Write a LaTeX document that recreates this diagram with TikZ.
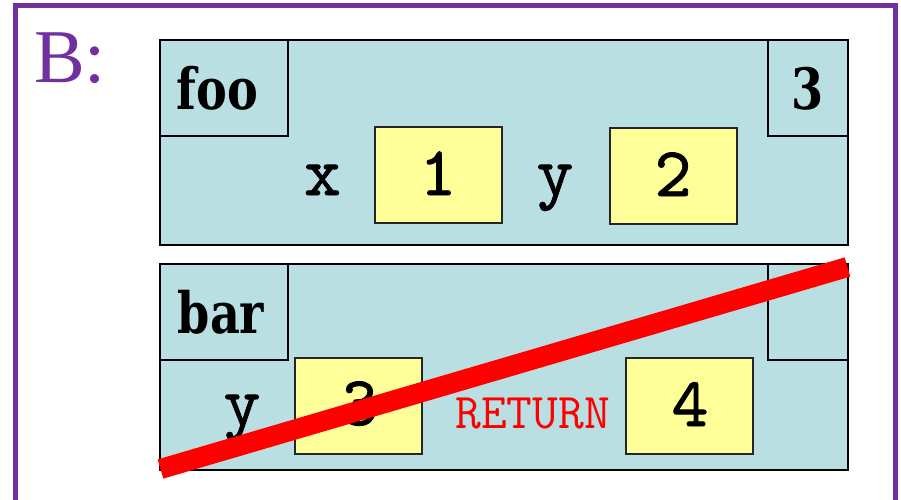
\documentclass[tikz,border=0pt]{standalone}
\usepackage{fontspec}
\usepackage{graphicx}
\newfontfamily\titlefont{Liberation Serif}
\newfontfamily\heavyfont{DejaVu Serif Condensed}
\newfontfamily\typefont{lmmono10-regular}[Extension=.otf,FakeBold=1.2]
\definecolor{framepurple}{RGB}{112,48,160}
\definecolor{frameblue}{RGB}{185,223,227}
\definecolor{valyellow}{RGB}{255,255,153}
\definecolor{crossred}{RGB}{255,0,0}
\begin{document}
\begin{tikzpicture}[x=1pt,y=-1pt,
  framebox/.style={draw=black,line width=2pt,fill=frameblue,inner sep=0pt,rectangle},
  tagbox/.style={framebox,minimum width=128pt,minimum height=96pt},
  cntbox/.style={framebox,minimum width=80pt,minimum height=96pt},
  valbox/.style={draw=black!85,line width=2pt,fill=valyellow,inner sep=0pt,rectangle,minimum width=127pt,minimum height=96pt},
  monotext/.style={font=\typefont\fontsize{70}{80}\selectfont,inner sep=0pt,anchor=base},
  boldtext/.style={font=\heavyfont\bfseries\fontsize{57}{67}\selectfont,inner sep=0pt,anchor=base},
  rettext/.style={font=\ttfamily\fontsize{50}{60}\selectfont,text=crossred,inner sep=0pt,anchor=base}
]
\clip (0,0) rectangle (901,499);
\fill[white] (0,0) rectangle (901,499);
% outer purple frame
\draw[framepurple,line width=5pt] (15.5,530) -- (15.5,5.5) -- (895.5,5.5) -- (895.5,530);
\node[font=\titlefont\fontsize{76}{90}\selectfont,text=framepurple,anchor=base west,inner sep=0pt] (title) at (34,82) {B:};
% foo frame
\node[framebox,minimum width=688pt,minimum height=205pt] (fooframe) at (504,142.5) {};
\node[tagbox] (footag) at (224,88) {};
\node[cntbox] (foocnt) at (808,88) {};
\node[valbox] (foox) at (438,175) {};
\node[valbox] (fooy) at (673,175.5) {};
\node[boldtext] (foolabel) at (217.5,109) {\scalebox{0.9}[1]{foo}};
\node[boldtext] (foocount) at (807.5,109) {\scalebox{0.9}[1]{3}};
\node[monotext] (xname) at (322.5,195) {x};
\node[monotext] (xval) at (438,195) {1};
\node[monotext] (yname) at (555,195) {y};
\node[monotext] (yval) at (673,196) {2};
% bar frame
\node[framebox,minimum width=688pt,minimum height=206pt] (barframe) at (504,367) {};
\node[tagbox] (bartag) at (224,312) {};
\node[cntbox] (barcnt) at (808,312) {};
\node[valbox] (bary) at (358,406) {};
\node[valbox] (barret) at (689.5,406) {};
\node[boldtext] (barlabel) at (221,333) {\scalebox{0.9}[1]{bar}};
\node[monotext] (ynameb) at (242,425) {y};
\node[monotext] (yvalb) at (359.5,425) {3};
\node[rettext] (retname) at (532.5,428) {RETURN};
\node[monotext] (retval) at (690,426) {4};
% red strike-through
\coordinate (strikeA) at (160.5,469);
\coordinate (strikeB) at (847.5,267);
\draw[crossred,line width=20pt] (strikeA) -- (strikeB);
\end{tikzpicture}
\end{document}
